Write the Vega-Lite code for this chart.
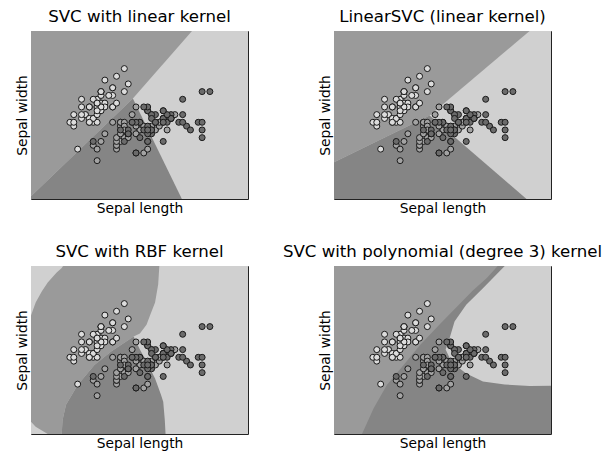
{
  "$schema": "https://vega.github.io/schema/vega-lite/v6.json",
  "background": "white",
  "padding": {"left": 14, "top": 8, "right": 5, "bottom": 5},
  "bounds": "flush",
  "spacing": {"row": 67, "column": 86},
  "columns": 2,
  "config": {
    "font": "DejaVu Sans",
    "view": {"stroke": "#222", "strokeWidth": 1},
    "axis": {"ticks": false, "labels": false, "domain": false, "grid": false, "titleFont": "DejaVu Sans", "titleFontSize": 13.8, "titleFontWeight": "normal", "titleColor": "#000", "titlePadding": 2},
    "title": {"font": "DejaVu Sans", "fontSize": 16.6, "fontWeight": "normal", "color": "#000", "offset": 5, "anchor": "middle"}
  },
  "datasets": {
    "iris": [
      {"sl":5.1,"sw":3.5,"sp":0},{"sl":4.9,"sw":3.0,"sp":0},{"sl":4.7,"sw":3.2,"sp":0},{"sl":4.6,"sw":3.1,"sp":0},{"sl":5.0,"sw":3.6,"sp":0},
      {"sl":5.4,"sw":3.9,"sp":0},{"sl":4.6,"sw":3.4,"sp":0},{"sl":5.0,"sw":3.4,"sp":0},{"sl":4.4,"sw":2.9,"sp":0},{"sl":4.9,"sw":3.1,"sp":0},
      {"sl":5.4,"sw":3.7,"sp":0},{"sl":4.8,"sw":3.4,"sp":0},{"sl":4.8,"sw":3.0,"sp":0},{"sl":4.3,"sw":3.0,"sp":0},{"sl":5.8,"sw":4.0,"sp":0},
      {"sl":5.7,"sw":4.4,"sp":0},{"sl":5.4,"sw":3.9,"sp":0},{"sl":5.1,"sw":3.5,"sp":0},{"sl":5.7,"sw":3.8,"sp":0},{"sl":5.1,"sw":3.8,"sp":0},
      {"sl":5.4,"sw":3.4,"sp":0},{"sl":5.1,"sw":3.7,"sp":0},{"sl":4.6,"sw":3.6,"sp":0},{"sl":5.1,"sw":3.3,"sp":0},{"sl":4.8,"sw":3.4,"sp":0},
      {"sl":5.0,"sw":3.0,"sp":0},{"sl":5.0,"sw":3.4,"sp":0},{"sl":5.2,"sw":3.5,"sp":0},{"sl":5.2,"sw":3.4,"sp":0},{"sl":4.7,"sw":3.2,"sp":0},
      {"sl":4.8,"sw":3.1,"sp":0},{"sl":5.4,"sw":3.4,"sp":0},{"sl":5.2,"sw":4.1,"sp":0},{"sl":5.5,"sw":4.2,"sp":0},{"sl":4.9,"sw":3.1,"sp":0},
      {"sl":5.0,"sw":3.2,"sp":0},{"sl":5.5,"sw":3.5,"sp":0},{"sl":4.9,"sw":3.6,"sp":0},{"sl":4.4,"sw":3.0,"sp":0},{"sl":5.1,"sw":3.4,"sp":0},
      {"sl":5.0,"sw":3.5,"sp":0},{"sl":4.5,"sw":2.3,"sp":0},{"sl":4.4,"sw":3.2,"sp":0},{"sl":5.0,"sw":3.5,"sp":0},{"sl":5.1,"sw":3.8,"sp":0},
      {"sl":4.8,"sw":3.0,"sp":0},{"sl":5.1,"sw":3.8,"sp":0},{"sl":4.6,"sw":3.2,"sp":0},{"sl":5.3,"sw":3.7,"sp":0},{"sl":5.0,"sw":3.3,"sp":0},
      {"sl":7.0,"sw":3.2,"sp":1},{"sl":6.4,"sw":3.2,"sp":1},{"sl":6.9,"sw":3.1,"sp":1},{"sl":5.5,"sw":2.3,"sp":1},{"sl":6.5,"sw":2.8,"sp":1},
      {"sl":5.7,"sw":2.8,"sp":1},{"sl":6.3,"sw":3.3,"sp":1},{"sl":4.9,"sw":2.4,"sp":1},{"sl":6.6,"sw":2.9,"sp":1},{"sl":5.2,"sw":2.7,"sp":1},
      {"sl":5.0,"sw":2.0,"sp":1},{"sl":5.9,"sw":3.0,"sp":1},{"sl":6.0,"sw":2.2,"sp":1},{"sl":6.1,"sw":2.9,"sp":1},{"sl":5.6,"sw":2.9,"sp":1},
      {"sl":6.7,"sw":3.1,"sp":1},{"sl":5.6,"sw":3.0,"sp":1},{"sl":5.8,"sw":2.7,"sp":1},{"sl":6.2,"sw":2.2,"sp":1},{"sl":5.6,"sw":2.5,"sp":1},
      {"sl":5.9,"sw":3.2,"sp":1},{"sl":6.1,"sw":2.8,"sp":1},{"sl":6.3,"sw":2.5,"sp":1},{"sl":6.1,"sw":2.8,"sp":1},{"sl":6.4,"sw":2.9,"sp":1},
      {"sl":6.6,"sw":3.0,"sp":1},{"sl":6.8,"sw":2.8,"sp":1},{"sl":6.7,"sw":3.0,"sp":1},{"sl":6.0,"sw":2.9,"sp":1},{"sl":5.7,"sw":2.6,"sp":1},
      {"sl":5.5,"sw":2.4,"sp":1},{"sl":5.5,"sw":2.4,"sp":1},{"sl":5.8,"sw":2.7,"sp":1},{"sl":6.0,"sw":2.7,"sp":1},{"sl":5.4,"sw":3.0,"sp":1},
      {"sl":6.0,"sw":3.4,"sp":1},{"sl":6.7,"sw":3.1,"sp":1},{"sl":6.3,"sw":2.3,"sp":1},{"sl":5.6,"sw":3.0,"sp":1},{"sl":5.5,"sw":2.5,"sp":1},
      {"sl":5.5,"sw":2.6,"sp":1},{"sl":6.1,"sw":3.0,"sp":1},{"sl":5.8,"sw":2.6,"sp":1},{"sl":5.0,"sw":2.3,"sp":1},{"sl":5.6,"sw":2.7,"sp":1},
      {"sl":5.7,"sw":3.0,"sp":1},{"sl":5.7,"sw":2.9,"sp":1},{"sl":6.2,"sw":2.9,"sp":1},{"sl":5.1,"sw":2.5,"sp":1},{"sl":5.7,"sw":2.8,"sp":1},
      {"sl":6.3,"sw":3.3,"sp":2},{"sl":5.8,"sw":2.7,"sp":2},{"sl":7.1,"sw":3.0,"sp":2},{"sl":6.3,"sw":2.9,"sp":2},{"sl":6.5,"sw":3.0,"sp":2},
      {"sl":7.6,"sw":3.0,"sp":2},{"sl":4.9,"sw":2.5,"sp":2},{"sl":7.3,"sw":2.9,"sp":2},{"sl":6.7,"sw":2.5,"sp":2},{"sl":7.2,"sw":3.6,"sp":2},
      {"sl":6.5,"sw":3.2,"sp":2},{"sl":6.4,"sw":2.7,"sp":2},{"sl":6.8,"sw":3.0,"sp":2},{"sl":5.7,"sw":2.5,"sp":2},{"sl":5.8,"sw":2.8,"sp":2},
      {"sl":6.4,"sw":3.2,"sp":2},{"sl":6.5,"sw":3.0,"sp":2},{"sl":7.7,"sw":3.8,"sp":2},{"sl":7.7,"sw":2.6,"sp":2},{"sl":6.0,"sw":2.2,"sp":2},
      {"sl":6.9,"sw":3.2,"sp":2},{"sl":5.6,"sw":2.8,"sp":2},{"sl":7.7,"sw":2.8,"sp":2},{"sl":6.3,"sw":2.7,"sp":2},{"sl":6.7,"sw":3.3,"sp":2},
      {"sl":7.2,"sw":3.2,"sp":2},{"sl":6.2,"sw":2.8,"sp":2},{"sl":6.1,"sw":3.0,"sp":2},{"sl":6.4,"sw":2.8,"sp":2},{"sl":7.2,"sw":3.0,"sp":2},
      {"sl":7.4,"sw":2.8,"sp":2},{"sl":7.9,"sw":3.8,"sp":2},{"sl":6.4,"sw":2.8,"sp":2},{"sl":6.3,"sw":2.8,"sp":2},{"sl":6.1,"sw":2.6,"sp":2},
      {"sl":7.7,"sw":3.0,"sp":2},{"sl":6.3,"sw":3.4,"sp":2},{"sl":6.4,"sw":3.1,"sp":2},{"sl":6.0,"sw":3.0,"sp":2},{"sl":6.9,"sw":3.1,"sp":2},
      {"sl":6.7,"sw":3.1,"sp":2},{"sl":6.9,"sw":3.1,"sp":2},{"sl":5.8,"sw":2.7,"sp":2},{"sl":6.8,"sw":3.2,"sp":2},{"sl":6.7,"sw":3.3,"sp":2},
      {"sl":6.7,"sw":3.0,"sp":2},{"sl":6.3,"sw":2.5,"sp":2},{"sl":6.5,"sw":3.0,"sp":2},{"sl":6.2,"sw":3.4,"sp":2},{"sl":5.9,"sw":3.0,"sp":2}
    ],
    "regions": [
      {"panel":1,"part":"bg","cls":2,"x":3.3,"y":5.38,"y2":1.0},
      {"panel":1,"part":"bg","cls":2,"x":8.88,"y":5.38,"y2":1.0},
      {"panel":1,"part":"a","cls":0,"x":3.3,"y":5.38,"y2":1.07},
      {"panel":1,"part":"a","cls":0,"x":5.92,"y":5.38,"y2":3.62},
      {"panel":1,"part":"a","cls":0,"x":7.44,"y":5.38,"y2":5.38},
      {"panel":1,"part":"b","cls":1,"x":3.3,"y":1.07,"y2":1.0},
      {"panel":1,"part":"b","cls":1,"x":5.92,"y":3.62,"y2":1.0},
      {"panel":1,"part":"b","cls":1,"x":7.18,"y":1.0,"y2":1.0},

      {"panel":2,"part":"bg","cls":2,"x":3.3,"y":5.38,"y2":1.0},
      {"panel":2,"part":"bg","cls":2,"x":8.88,"y":5.38,"y2":1.0},
      {"panel":2,"part":"a","cls":0,"x":3.3,"y":5.38,"y2":1.96},
      {"panel":2,"part":"a","cls":0,"x":5.76,"y":5.38,"y2":3.18},
      {"panel":2,"part":"a","cls":0,"x":8.33,"y":5.38,"y2":5.38},
      {"panel":2,"part":"b","cls":1,"x":3.3,"y":1.96,"y2":1.0},
      {"panel":2,"part":"b","cls":1,"x":5.76,"y":3.18,"y2":1.0},
      {"panel":2,"part":"b","cls":1,"x":8.25,"y":1.0,"y2":1.0},

      {"panel":3,"part":"bg","cls":2,"x":3.3,"y":5.38,"y2":1.0},
      {"panel":3,"part":"bg","cls":2,"x":8.88,"y":5.38,"y2":1.0},
      {"panel":3,"part":"a","cls":0,"x":3.3,"y":4.09,"y2":1.32},
      {"panel":3,"part":"a","cls":0,"x":3.42,"y":4.43,"y2":1.19},
      {"panel":3,"part":"a","cls":0,"x":3.58,"y":4.72,"y2":1.09},
      {"panel":3,"part":"a","cls":0,"x":3.73,"y":4.95,"y2":1.0},
      {"panel":3,"part":"a","cls":0,"x":3.96,"y":5.21,"y2":1.0},
      {"panel":3,"part":"a","cls":0,"x":4.09,"y":5.33,"y2":1.0},
      {"panel":3,"part":"a","cls":0,"x":4.11,"y":5.36,"y2":1.35},
      {"panel":3,"part":"a","cls":0,"x":4.13,"y":5.38,"y2":1.45},
      {"panel":3,"part":"a","cls":0,"x":4.2,"y":5.38,"y2":1.76},
      {"panel":3,"part":"a","cls":0,"x":4.5,"y":5.38,"y2":2.28},
      {"panel":3,"part":"a","cls":0,"x":4.93,"y":5.38,"y2":2.8},
      {"panel":3,"part":"a","cls":0,"x":5.36,"y":5.38,"y2":3.15},
      {"panel":3,"part":"a","cls":0,"x":5.94,"y":5.38,"y2":3.54},
      {"panel":3,"part":"a","cls":0,"x":6.1,"y":5.38,"y2":3.62},
      {"panel":3,"part":"a","cls":0,"x":6.27,"y":5.38,"y2":3.85},
      {"panel":3,"part":"a","cls":0,"x":6.36,"y":5.38,"y2":4.09},
      {"panel":3,"part":"a","cls":0,"x":6.49,"y":5.38,"y2":4.43},
      {"panel":3,"part":"a","cls":0,"x":6.57,"y":5.38,"y2":4.9},
      {"panel":3,"part":"a","cls":0,"x":6.6,"y":5.38,"y2":5.38},
      {"panel":3,"part":"b","cls":1,"x":4.09,"y":1.0,"y2":1.0},
      {"panel":3,"part":"b","cls":1,"x":4.11,"y":1.35,"y2":1.0},
      {"panel":3,"part":"b","cls":1,"x":4.13,"y":1.45,"y2":1.0},
      {"panel":3,"part":"b","cls":1,"x":4.2,"y":1.76,"y2":1.0},
      {"panel":3,"part":"b","cls":1,"x":4.5,"y":2.28,"y2":1.0},
      {"panel":3,"part":"b","cls":1,"x":4.93,"y":2.8,"y2":1.0},
      {"panel":3,"part":"b","cls":1,"x":5.36,"y":3.15,"y2":1.0},
      {"panel":3,"part":"b","cls":1,"x":5.94,"y":3.54,"y2":1.0},
      {"panel":3,"part":"b","cls":1,"x":6.1,"y":3.2,"y2":1.0},
      {"panel":3,"part":"b","cls":1,"x":6.27,"y":2.89,"y2":1.0},
      {"panel":3,"part":"b","cls":1,"x":6.49,"y":2.45,"y2":1.0},
      {"panel":3,"part":"b","cls":1,"x":6.64,"y":2.03,"y2":1.0},
      {"panel":3,"part":"b","cls":1,"x":6.7,"y":1.84,"y2":1.0},
      {"panel":3,"part":"b","cls":1,"x":6.74,"y":1.37,"y2":1.0},
      {"panel":3,"part":"b","cls":1,"x":6.76,"y":1.0,"y2":1.0},

      {"panel":4,"part":"bg","cls":1,"x":3.3,"y":5.38,"y2":1.0},
      {"panel":4,"part":"bg","cls":1,"x":8.88,"y":5.38,"y2":1.0},
      {"panel":4,"part":"a","cls":0,"x":3.3,"y":5.38,"y2":1.0},
      {"panel":4,"part":"a","cls":0,"x":4.02,"y":5.38,"y2":1.0},
      {"panel":4,"part":"a","cls":0,"x":4.32,"y":5.38,"y2":1.67},
      {"panel":4,"part":"a","cls":0,"x":4.66,"y":5.38,"y2":2.28},
      {"panel":4,"part":"a","cls":0,"x":5.09,"y":5.38,"y2":2.8},
      {"panel":4,"part":"a","cls":0,"x":5.52,"y":5.38,"y2":3.33},
      {"panel":4,"part":"a","cls":0,"x":6.02,"y":5.38,"y2":3.86},
      {"panel":4,"part":"a","cls":0,"x":6.87,"y":5.38,"y2":4.74},
      {"panel":4,"part":"a","cls":0,"x":7.23,"y":5.38,"y2":5.07},
      {"panel":4,"part":"a","cls":0,"x":7.51,"y":5.38,"y2":5.38},
      {"panel":4,"part":"b","cls":2,"x":6.17,"y":3.2,"y2":3.2},
      {"panel":4,"part":"b","cls":2,"x":6.27,"y":3.49,"y2":2.99},
      {"panel":4,"part":"b","cls":2,"x":6.4,"y":3.93,"y2":2.81},
      {"panel":4,"part":"b","cls":2,"x":6.7,"y":4.37,"y2":2.58},
      {"panel":4,"part":"b","cls":2,"x":7.13,"y":4.8,"y2":2.37},
      {"panel":4,"part":"b","cls":2,"x":7.69,"y":5.38,"y2":2.29},
      {"panel":4,"part":"b","cls":2,"x":8.33,"y":5.38,"y2":2.25},
      {"panel":4,"part":"b","cls":2,"x":8.88,"y":5.38,"y2":2.26}
    ]
  },
  "concat": [
    {
      "title": "SVC with linear kernel",
      "width": 217, "height": 168,
      "layer": [
        {"data": {"name": "regions"}, "transform": [{"filter": "datum.panel == 1 && datum.part == 'bg'"}], "mark": {"type": "area", "clip": true, "opacity": 1},
         "encoding": {"x": {"field": "x", "type": "quantitative", "title": "Sepal length", "scale": {"domain": [3.3, 8.88], "nice": false, "zero": false}}, "y": {"field": "y", "type": "quantitative", "title": "Sepal width", "scale": {"domain": [1.0, 5.38], "nice": false, "zero": false}}, "y2": {"field": "y2"}, "color": {"field": "cls", "type": "nominal", "scale": {"domain": [0, 1, 2], "range": ["#9a9a9a", "#858585", "#d0d0d0"]}, "legend": null}}},
        {"data": {"name": "regions"}, "transform": [{"filter": "datum.panel == 1 && datum.part == 'a'"}], "mark": {"type": "area", "clip": true, "opacity": 1},
         "encoding": {"x": {"field": "x", "type": "quantitative", "title": "Sepal length", "scale": {"domain": [3.3, 8.88], "nice": false, "zero": false}}, "y": {"field": "y", "type": "quantitative", "title": "Sepal width", "scale": {"domain": [1.0, 5.38], "nice": false, "zero": false}}, "y2": {"field": "y2"}, "color": {"field": "cls", "type": "nominal", "scale": {"domain": [0, 1, 2], "range": ["#9a9a9a", "#858585", "#d0d0d0"]}, "legend": null}}},
        {"data": {"name": "regions"}, "transform": [{"filter": "datum.panel == 1 && datum.part == 'b'"}], "mark": {"type": "area", "clip": true, "opacity": 1},
         "encoding": {"x": {"field": "x", "type": "quantitative", "title": "Sepal length", "scale": {"domain": [3.3, 8.88], "nice": false, "zero": false}}, "y": {"field": "y", "type": "quantitative", "title": "Sepal width", "scale": {"domain": [1.0, 5.38], "nice": false, "zero": false}}, "y2": {"field": "y2"}, "color": {"field": "cls", "type": "nominal", "scale": {"domain": [0, 1, 2], "range": ["#9a9a9a", "#858585", "#d0d0d0"]}, "legend": null}}},
        {"data": {"name": "iris"}, "mark": {"type": "point", "shape": "circle", "filled": true, "size": 36, "stroke": "#1a1a1a", "strokeWidth": 1, "opacity": 1, "clip": true},
         "encoding": {"x": {"field": "sl", "type": "quantitative", "title": "Sepal length"}, "y": {"field": "sw", "type": "quantitative", "title": "Sepal width"}, "fill": {"field": "sp", "type": "nominal", "scale": {"domain": [0, 1, 2], "range": ["#dcdcdc", "#a3a3a3", "#6b6b6b"]}, "legend": null}}}
      ]
    },
    {
      "title": "LinearSVC (linear kernel)",
      "width": 217, "height": 168,
      "layer": [
        {"data": {"name": "regions"}, "transform": [{"filter": "datum.panel == 2 && datum.part == 'bg'"}], "mark": {"type": "area", "clip": true, "opacity": 1},
         "encoding": {"x": {"field": "x", "type": "quantitative", "title": "Sepal length", "scale": {"domain": [3.3, 8.88], "nice": false, "zero": false}}, "y": {"field": "y", "type": "quantitative", "title": "Sepal width", "scale": {"domain": [1.0, 5.38], "nice": false, "zero": false}}, "y2": {"field": "y2"}, "color": {"field": "cls", "type": "nominal", "scale": {"domain": [0, 1, 2], "range": ["#9a9a9a", "#858585", "#d0d0d0"]}, "legend": null}}},
        {"data": {"name": "regions"}, "transform": [{"filter": "datum.panel == 2 && datum.part == 'a'"}], "mark": {"type": "area", "clip": true, "opacity": 1},
         "encoding": {"x": {"field": "x", "type": "quantitative", "title": "Sepal length", "scale": {"domain": [3.3, 8.88], "nice": false, "zero": false}}, "y": {"field": "y", "type": "quantitative", "title": "Sepal width", "scale": {"domain": [1.0, 5.38], "nice": false, "zero": false}}, "y2": {"field": "y2"}, "color": {"field": "cls", "type": "nominal", "scale": {"domain": [0, 1, 2], "range": ["#9a9a9a", "#858585", "#d0d0d0"]}, "legend": null}}},
        {"data": {"name": "regions"}, "transform": [{"filter": "datum.panel == 2 && datum.part == 'b'"}], "mark": {"type": "area", "clip": true, "opacity": 1},
         "encoding": {"x": {"field": "x", "type": "quantitative", "title": "Sepal length", "scale": {"domain": [3.3, 8.88], "nice": false, "zero": false}}, "y": {"field": "y", "type": "quantitative", "title": "Sepal width", "scale": {"domain": [1.0, 5.38], "nice": false, "zero": false}}, "y2": {"field": "y2"}, "color": {"field": "cls", "type": "nominal", "scale": {"domain": [0, 1, 2], "range": ["#9a9a9a", "#858585", "#d0d0d0"]}, "legend": null}}},
        {"data": {"name": "iris"}, "mark": {"type": "point", "shape": "circle", "filled": true, "size": 36, "stroke": "#1a1a1a", "strokeWidth": 1, "opacity": 1, "clip": true},
         "encoding": {"x": {"field": "sl", "type": "quantitative", "title": "Sepal length"}, "y": {"field": "sw", "type": "quantitative", "title": "Sepal width"}, "fill": {"field": "sp", "type": "nominal", "scale": {"domain": [0, 1, 2], "range": ["#dcdcdc", "#a3a3a3", "#6b6b6b"]}, "legend": null}}}
      ]
    },
    {
      "title": "SVC with RBF kernel",
      "width": 217, "height": 168,
      "layer": [
        {"data": {"name": "regions"}, "transform": [{"filter": "datum.panel == 3 && datum.part == 'bg'"}], "mark": {"type": "area", "clip": true, "opacity": 1},
         "encoding": {"x": {"field": "x", "type": "quantitative", "title": "Sepal length", "scale": {"domain": [3.3, 8.88], "nice": false, "zero": false}}, "y": {"field": "y", "type": "quantitative", "title": "Sepal width", "scale": {"domain": [1.0, 5.38], "nice": false, "zero": false}}, "y2": {"field": "y2"}, "color": {"field": "cls", "type": "nominal", "scale": {"domain": [0, 1, 2], "range": ["#9a9a9a", "#858585", "#d0d0d0"]}, "legend": null}}},
        {"data": {"name": "regions"}, "transform": [{"filter": "datum.panel == 3 && datum.part == 'a'"}], "mark": {"type": "area", "clip": true, "opacity": 1},
         "encoding": {"x": {"field": "x", "type": "quantitative", "title": "Sepal length", "scale": {"domain": [3.3, 8.88], "nice": false, "zero": false}}, "y": {"field": "y", "type": "quantitative", "title": "Sepal width", "scale": {"domain": [1.0, 5.38], "nice": false, "zero": false}}, "y2": {"field": "y2"}, "color": {"field": "cls", "type": "nominal", "scale": {"domain": [0, 1, 2], "range": ["#9a9a9a", "#858585", "#d0d0d0"]}, "legend": null}}},
        {"data": {"name": "regions"}, "transform": [{"filter": "datum.panel == 3 && datum.part == 'b'"}], "mark": {"type": "area", "clip": true, "opacity": 1},
         "encoding": {"x": {"field": "x", "type": "quantitative", "title": "Sepal length", "scale": {"domain": [3.3, 8.88], "nice": false, "zero": false}}, "y": {"field": "y", "type": "quantitative", "title": "Sepal width", "scale": {"domain": [1.0, 5.38], "nice": false, "zero": false}}, "y2": {"field": "y2"}, "color": {"field": "cls", "type": "nominal", "scale": {"domain": [0, 1, 2], "range": ["#9a9a9a", "#858585", "#d0d0d0"]}, "legend": null}}},
        {"data": {"name": "iris"}, "mark": {"type": "point", "shape": "circle", "filled": true, "size": 36, "stroke": "#1a1a1a", "strokeWidth": 1, "opacity": 1, "clip": true},
         "encoding": {"x": {"field": "sl", "type": "quantitative", "title": "Sepal length"}, "y": {"field": "sw", "type": "quantitative", "title": "Sepal width"}, "fill": {"field": "sp", "type": "nominal", "scale": {"domain": [0, 1, 2], "range": ["#dcdcdc", "#a3a3a3", "#6b6b6b"]}, "legend": null}}}
      ]
    },
    {
      "title": "SVC with polynomial (degree 3) kernel",
      "width": 217, "height": 168,
      "layer": [
        {"data": {"name": "regions"}, "transform": [{"filter": "datum.panel == 4 && datum.part == 'bg'"}], "mark": {"type": "area", "clip": true, "opacity": 1},
         "encoding": {"x": {"field": "x", "type": "quantitative", "title": "Sepal length", "scale": {"domain": [3.3, 8.88], "nice": false, "zero": false}}, "y": {"field": "y", "type": "quantitative", "title": "Sepal width", "scale": {"domain": [1.0, 5.38], "nice": false, "zero": false}}, "y2": {"field": "y2"}, "color": {"field": "cls", "type": "nominal", "scale": {"domain": [0, 1, 2], "range": ["#9a9a9a", "#858585", "#d0d0d0"]}, "legend": null}}},
        {"data": {"name": "regions"}, "transform": [{"filter": "datum.panel == 4 && datum.part == 'a'"}], "mark": {"type": "area", "clip": true, "opacity": 1},
         "encoding": {"x": {"field": "x", "type": "quantitative", "title": "Sepal length", "scale": {"domain": [3.3, 8.88], "nice": false, "zero": false}}, "y": {"field": "y", "type": "quantitative", "title": "Sepal width", "scale": {"domain": [1.0, 5.38], "nice": false, "zero": false}}, "y2": {"field": "y2"}, "color": {"field": "cls", "type": "nominal", "scale": {"domain": [0, 1, 2], "range": ["#9a9a9a", "#858585", "#d0d0d0"]}, "legend": null}}},
        {"data": {"name": "regions"}, "transform": [{"filter": "datum.panel == 4 && datum.part == 'b'"}], "mark": {"type": "area", "clip": true, "opacity": 1},
         "encoding": {"x": {"field": "x", "type": "quantitative", "title": "Sepal length", "scale": {"domain": [3.3, 8.88], "nice": false, "zero": false}}, "y": {"field": "y", "type": "quantitative", "title": "Sepal width", "scale": {"domain": [1.0, 5.38], "nice": false, "zero": false}}, "y2": {"field": "y2"}, "color": {"field": "cls", "type": "nominal", "scale": {"domain": [0, 1, 2], "range": ["#9a9a9a", "#858585", "#d0d0d0"]}, "legend": null}}},
        {"data": {"name": "iris"}, "mark": {"type": "point", "shape": "circle", "filled": true, "size": 36, "stroke": "#1a1a1a", "strokeWidth": 1, "opacity": 1, "clip": true},
         "encoding": {"x": {"field": "sl", "type": "quantitative", "title": "Sepal length"}, "y": {"field": "sw", "type": "quantitative", "title": "Sepal width"}, "fill": {"field": "sp", "type": "nominal", "scale": {"domain": [0, 1, 2], "range": ["#dcdcdc", "#a3a3a3", "#6b6b6b"]}, "legend": null}}}
      ]
    }
  ]
}
